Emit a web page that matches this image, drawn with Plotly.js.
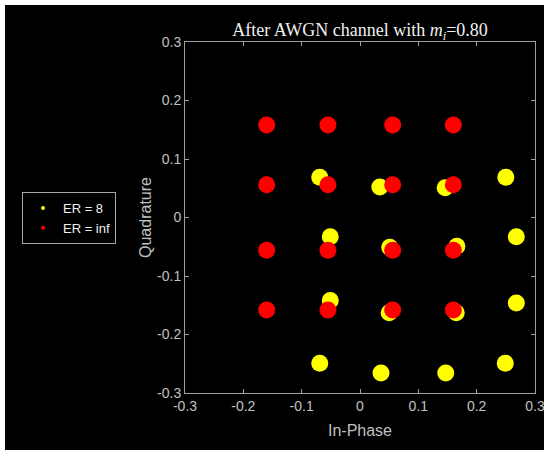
<!DOCTYPE html>
<html>
<head>
<meta charset="utf-8">
<script src="https://cdn.plot.ly/plotly-3.0.1.min.js"></script>
<style>
  html, body { margin: 0; padding: 0; background: #ffffff; }
  #chart { position: absolute; left: 5px; top: 5px; width: 539px; height: 445px; }
</style>
</head>
<body>
<div id="chart"></div>
<script>
// Cluster centres (In-Phase, Quadrature)
const er8I = [-0.069, 0.034, 0.146, 0.250,
              -0.051, 0.051, 0.166, 0.268,
              -0.051, 0.050, 0.165, 0.268,
              -0.069, 0.036, 0.147, 0.249];
const er8Q = [ 0.069, 0.052, 0.051, 0.069,
              -0.033,-0.051,-0.049,-0.033,
              -0.142,-0.163,-0.163,-0.146,
              -0.249,-0.266,-0.266,-0.249];
const erInfI = [-0.160,-0.055, 0.056, 0.160,
                -0.160,-0.055, 0.056, 0.160,
                -0.160,-0.055, 0.056, 0.160,
                -0.160,-0.055, 0.056, 0.160];
const erInfQ = [ 0.158, 0.158, 0.158, 0.158,
                 0.056, 0.056, 0.056, 0.056,
                -0.056,-0.056,-0.056,-0.056,
                -0.158,-0.158,-0.158,-0.158];
const seriesNames = ['ER = 8', 'ER = inf'];
const tickVals = [-0.3, -0.2, -0.1, 0, 0.1, 0.2, 0.3];
const tickText = ['-0.3', '-0.2', '-0.1', '0', '0.1', '0.2', '0.3'];

const yellow = '#ffff00', red = '#ff0000';
const axisGrey = '#a0a0a0', textGrey = '#c0c0c0';

const traces = [
  { x: er8I, y: er8Q, type: 'scatter', mode: 'markers', showlegend: false,
    marker: { color: yellow, size: 17 }, hoverinfo: 'skip' },
  { x: erInfI, y: erInfQ, type: 'scatter', mode: 'markers', showlegend: false,
    marker: { color: red, size: 17 }, hoverinfo: 'skip' },
  { x: [null], y: [null], type: 'scatter', mode: 'markers', name: seriesNames[0],
    marker: { color: yellow, size: 4 } },
  { x: [null], y: [null], type: 'scatter', mode: 'markers', name: seriesNames[1],
    marker: { color: red, size: 4 } }
];

const axisCommon = {
  range: [-0.3, 0.3],
  tickvals: tickVals,
  ticktext: tickText,
  ticks: 'inside',
  ticklen: 4,
  tickcolor: axisGrey,
  showline: true,
  linecolor: axisGrey,
  linewidth: 1,
  mirror: 'ticks',
  showgrid: false,
  zeroline: false,
  ticklabeloverflow: 'allow',
  tickfont: { family: 'Liberation Sans, Arial, sans-serif', size: 14, color: textGrey },
  automargin: false
};

const layout = {
  width: 539, height: 445,
  paper_bgcolor: '#000000',
  plot_bgcolor: '#000000',
  margin: { l: 180, r: 9, t: 37, b: 57 },
  title: {
    text: 'After AWGN channel with <i>m</i><sub><i>i</i></sub>=0.80',
    font: { family: 'Liberation Serif, Times New Roman, serif', size: 18, color: '#f0f0f0' },
    x: 0.5, xref: 'paper', xanchor: 'center',
    y: 1 - 25 / 445, yanchor: 'middle'
  },
  xaxis: Object.assign({}, axisCommon, {
    title: { text: 'In-Phase', font: { family: 'Liberation Sans, Arial, sans-serif', size: 16, color: textGrey }, standoff: 12 }
  }),
  yaxis: Object.assign({}, axisCommon, {
    title: { text: 'Quadrature', font: { family: 'Liberation Sans, Arial, sans-serif', size: 16, color: textGrey }, standoff: 1 }
  }),
  showlegend: true,
  legend: {
    x: (22 - 5 - 180) / 350, xanchor: 'left',
    y: 1 - (187 - 37) / 351, yanchor: 'top',
    bgcolor: '#000000',
    bordercolor: '#a6a6a6',
    borderwidth: 1,
    font: { family: 'Liberation Sans, Arial, sans-serif', size: 13, color: '#f0f0f0' },
    itemwidth: 30,
    tracegroupgap: 0
  }
};

Plotly.newPlot('chart', traces, layout, { staticPlot: true });
</script>
</body>
</html>
